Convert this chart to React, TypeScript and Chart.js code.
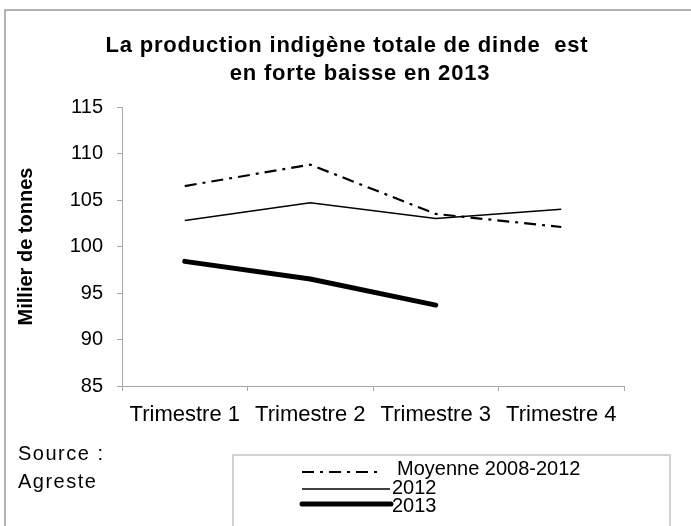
import React, { useEffect, useRef } from "react";
import { Chart, registerables } from "chart.js";

Chart.register(...registerables);

const categories = ["Trimestre 1", "Trimestre 2", "Trimestre 3", "Trimestre 4"];
const moyenne = [106.5, 108.8, 103.5, 102.1];
const serie2012 = [102.8, 104.7, 103.0, 104.0];
const serie2013 = [98.4, 96.5, 93.7, null];
const seriesLabels = ["Moyenne 2008-2012", "2012", "2013"];
const titleLines = ["La production indigène totale de dinde  est", "en forte baisse en 2013"];
const sourceLines = ["Source :", "Agreste"];
const yTitle = "Millier de tonnes";

const W = 691;
const H = 526;

const decorPlugin = {
  id: "decor",
  beforeDraw(chart: any) {
    const ctx = chart.ctx;
    ctx.save();
    ctx.fillStyle = "#ffffff";
    ctx.fillRect(0, 0, W, H);
    ctx.strokeStyle = "#9a9a9a";
    ctx.lineWidth = 1.5;
    ctx.strokeRect(5, 10, W + 20, H + 20);
    ctx.restore();
  },
  afterDraw(chart: any) {
    const ctx = chart.ctx;
    ctx.save();
    // title
    ctx.fillStyle = "#000";
    ctx.font = "bold 22px Arial, 'Liberation Sans', sans-serif";
    (ctx as any).letterSpacing = "0.8px";
    ctx.textAlign = "center";
    ctx.textBaseline = "alphabetic";
    ctx.fillText(titleLines[0], 347, 52);
    ctx.fillText(titleLines[1], 360, 80);
    // source
    ctx.font = "20px Arial, 'Liberation Sans', sans-serif";
    (ctx as any).letterSpacing = "1.5px";
    ctx.textAlign = "left";
    ctx.fillText(sourceLines[0], 18, 460);
    ctx.fillText(sourceLines[1], 18, 488);
    (ctx as any).letterSpacing = "0px";
    // legend box
    ctx.strokeStyle = "#c4c4c4";
    ctx.lineWidth = 1.5;
    ctx.strokeRect(233, 455, 437, 120);
    const ys = [472, 489, 504];
    const textYs = [475, 494, 512];
    const x0 = [302, 302, 302];
    const x1 = [380, 390, 391];
    chart.data.datasets.forEach((ds: any, i: number) => {
      ctx.save();
      ctx.strokeStyle = ds.borderColor;
      ctx.lineWidth = ds.borderWidth;
      ctx.lineCap = ds.borderCapStyle || "butt";
      ctx.setLineDash(ds.borderDash || []);
      ctx.beginPath();
      ctx.moveTo(x0[i], ys[i]);
      ctx.lineTo(x1[i], ys[i]);
      ctx.stroke();
      ctx.restore();
      ctx.fillStyle = "#000";
      ctx.font = "20px Arial, 'Liberation Sans', sans-serif";
      ctx.textAlign = "left";
      ctx.textBaseline = "alphabetic";
      ctx.fillText(ds.label, i === 0 ? 397 : 392, textYs[i]);
    });
    ctx.restore();
  },
};

export default function App() {
  const ref = useRef<HTMLCanvasElement | null>(null);
  useEffect(() => {
    if (!ref.current) return;
    const chart = new Chart(ref.current, {
      type: "line",
      data: {
        labels: categories,
        datasets: [
          {
            label: seriesLabels[0],
            data: moyenne,
            borderColor: "#000",
            borderWidth: 2.2,
            borderDash: [12, 6, 3, 6],
            pointRadius: 0,
            tension: 0,
            fill: false,
          },
          {
            label: seriesLabels[1],
            data: serie2012,
            borderColor: "#000",
            borderWidth: 1.5,
            pointRadius: 0,
            tension: 0,
            fill: false,
          },
          {
            label: seriesLabels[2],
            data: serie2013,
            borderColor: "#000",
            borderWidth: 5,
            borderCapStyle: "round",
            borderJoinStyle: "round",
            pointRadius: 0,
            tension: 0,
            fill: false,
          },
        ],
      },
      options: {
        responsive: false,
        animation: false,
        devicePixelRatio: 1,
        layout: { padding: { left: 0, right: 67, top: 107, bottom: 100 } },
        plugins: {
          legend: { display: false },
          title: { display: false },
          tooltip: { enabled: false },
        },
        scales: {
          x: {
            offset: true,
            grid: {
              offset: true,
              drawOnChartArea: false,
              drawTicks: true,
              tickLength: 5,
              color: "#a8a8a8",
            },
            border: { display: true, color: "#a8a8a8", width: 1 },
            ticks: {
              color: "#000",
              padding: 11,
              maxRotation: 0,
              autoSkip: false,
              font: { family: "Arial, 'Liberation Sans', sans-serif", size: 22 },
            },
            afterFit: (s: any) => {
              s.height = 40;
            },
          },
          y: {
            min: 85,
            max: 115,
            grid: {
              drawOnChartArea: false,
              drawTicks: true,
              tickLength: 5,
              color: "#a8a8a8",
            },
            border: { display: true, color: "#a8a8a8", width: 1 },
            ticks: {
              stepSize: 5,
              color: "#000",
              padding: 14,
              font: { family: "Arial, 'Liberation Sans', sans-serif", size: 20 },
            },
            title: {
              display: true,
              text: yTitle,
              color: "#000",
              padding: { top: 14, bottom: 0 },
              font: { family: "Arial, 'Liberation Sans', sans-serif", size: 20, weight: "bold" },
            },
            afterFit: (s: any) => {
              s.width = 122;
            },
          },
        },
      },
      plugins: [decorPlugin],
    });
    return () => chart.destroy();
  }, []);
  return (
    <div style={{ position: "absolute", left: 0, top: 0, width: W, height: H, background: "#fff" }}>
      <canvas ref={ref} width={W} height={H} style={{ display: "block", width: W, height: H }} />
    </div>
  );
}
